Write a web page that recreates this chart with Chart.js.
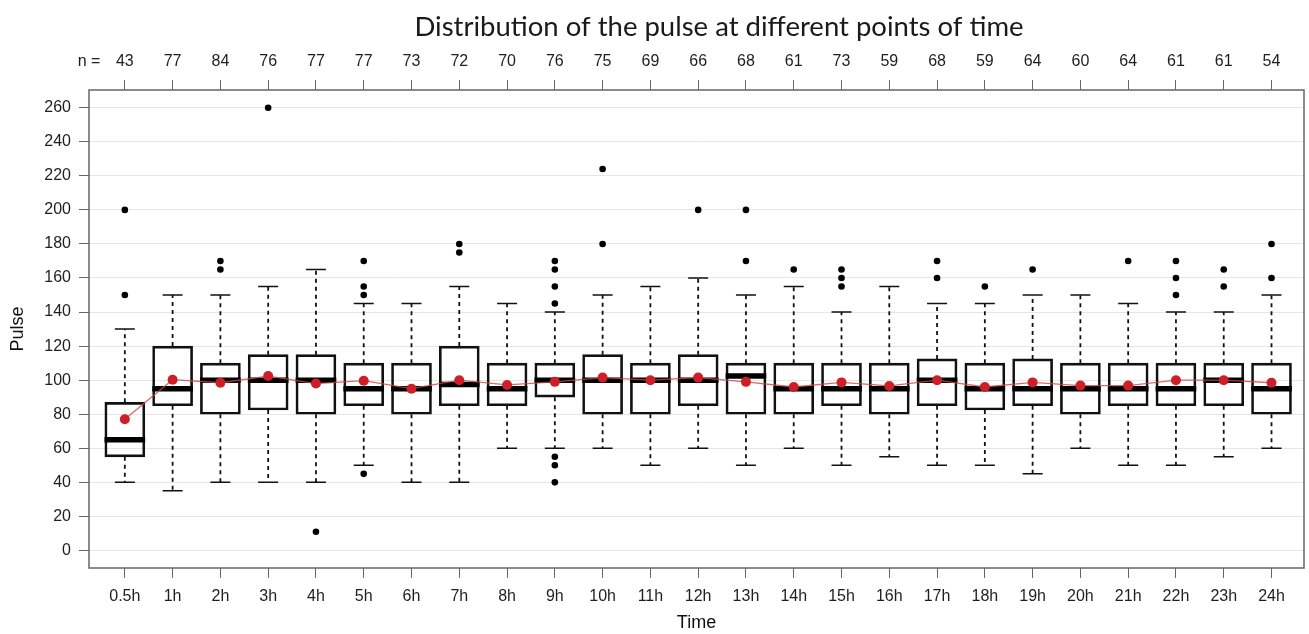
<!DOCTYPE html>
<html>
<head>
<meta charset="utf-8">
<script src="https://cdn.jsdelivr.net/npm/chart.js@4.4.1/dist/chart.umd.min.js"></script>
<style>
  html, body { margin: 0; padding: 0; background: #fff; }
  #wrap { width: 1309px; height: 634px; }
</style>
</head>
<body>
<div id="wrap"><canvas id="pulseChart"></canvas></div>
<script>
//data section
const timeLabels = ['0.5h', '1h', '2h', '3h', '4h', '5h', '6h', '7h', '8h', '9h', '10h', '11h', '12h',
    '13h', '14h', '15h', '16h', '17h', '18h', '19h', '20h', '21h', '22h', '23h', '24h'];
const nCounts = [43, 77, 84, 76, 77, 77, 73, 72, 70, 76, 75, 69, 66, 68, 61, 73, 59, 68, 59, 64, 60, 64, 61, 61, 54];
const q1 = [55, 85, 80, 82.5, 80, 85, 80, 85, 85, 90, 80, 80, 85, 80, 80, 85, 80, 85, 82.5, 85, 80, 85, 85, 85, 80];
const medians = [65, 95, 100, 100, 100, 95, 95, 97.5, 95, 100, 100, 100, 100, 102.5, 95, 95, 95, 100, 95, 95, 95, 95, 95, 100, 95];
const q3 = [87, 120, 110, 115, 115, 110, 110, 120, 110, 110, 115, 110, 115, 110, 110, 110, 110, 112.5, 110, 112.5, 110, 110, 110, 110, 110];
const whiskLow = [40, 35, 40, 40, 40, 50, 40, 40, 60, 60, 60, 50, 60, 50, 60, 50, 55, 50, 50, 45, 60, 50, 50, 55, 60];
const whiskHigh = [130, 150, 150, 155, 165, 145, 145, 155, 145, 140, 150, 155, 160, 150, 155, 140, 155, 145, 145, 150, 150, 145, 140, 140, 150];
const means = [77, 100.3, 98.5, 102.4, 98, 99.7, 95, 100, 97.2, 99, 101.5, 100, 101.5, 99, 96, 98.7, 96.6, 100, 96, 98.7, 96.8, 96.8, 100, 100, 98.5];
const outliers = [[150, 200], [], [165, 170], [260], [11], [45, 150, 155, 170], [], [175, 180], [],
    [40, 50, 55, 145, 155, 165, 170], [180, 224], [], [200], [170, 200], [165], [155, 160, 165], [],
    [160, 170], [155], [165], [], [170], [150, 160, 170], [155, 165], [160, 180]];
const yTicks = [0, 20, 40, 60, 80, 100, 120, 140, 160, 180, 200, 220, 240, 260];

//font + colours
const tickFont = { family: 'Liberation Sans', size: 16 };
const axisTitleFont = { family: 'Liberation Sans', size: 18 };
const tickColor = '#1e1e1e';
const axisLine = '#666';

//whiskers, frame and heading
const boxExtras = {
    id: 'boxExtras',
    beforeDatasetsDraw(chart) {
        const { ctx, scales: { x, y } } = chart;
        ctx.save();
        ctx.strokeStyle = '#111';
        timeLabels.forEach((lab, i) => {
            const px = x.getPixelForValue(i);
            ctx.lineWidth = 1.8;
            ctx.setLineDash([4, 4]);
            ctx.beginPath();
            ctx.moveTo(px, y.getPixelForValue(q3[i]));
            ctx.lineTo(px, y.getPixelForValue(whiskHigh[i]));
            ctx.moveTo(px, y.getPixelForValue(q1[i]));
            ctx.lineTo(px, y.getPixelForValue(whiskLow[i]));
            ctx.stroke();
            ctx.setLineDash([]);
            ctx.lineWidth = 1.5;
            ctx.beginPath();
            [whiskHigh[i], whiskLow[i]].forEach(v => {
                const py = y.getPixelForValue(v);
                ctx.moveTo(px - 10, py);
                ctx.lineTo(px + 10, py);
            });
            ctx.stroke();
        });
        ctx.restore();
    },
    afterDraw(chart) {
        const { ctx, chartArea: a } = chart;
        ctx.save();
        ctx.strokeStyle = axisLine;
        ctx.lineWidth = 1.5;
        ctx.strokeRect(a.left, a.top, a.right - a.left, a.bottom - a.top);
        ctx.fillStyle = '#1a1a1a';
        ctx.font = '27.5px Lato';
        ctx.textAlign = 'center';
        ctx.textBaseline = 'middle';
        ctx.fillText('Distribution of the pulse at different points of time', 719, 27);
        ctx.restore();
    }
};

const pulseChart = () => {
    var ctx = document.getElementById('pulseChart').getContext('2d');
    var chart = new Chart(ctx, {
        type: 'bar',
        data: {
            datasets: [{
                type: 'line',
                label: 'mean',
                data: means.map((v, i) => ({ x: i, y: v })),
                borderColor: 'rgba(205, 70, 70, 0.8)',
                borderWidth: 1.3,
                pointRadius: 5,
                pointBackgroundColor: '#cc1f28',
                pointBorderWidth: 0,
                order: 0
            }, {
                type: 'scatter',
                label: 'outliers',
                data: outliers.flatMap((arr, i) => arr.map(v => ({ x: i, y: v }))),
                pointRadius: 3.3,
                pointBackgroundColor: '#000',
                pointBorderWidth: 0,
                order: 1
            }, {
                label: 'median',
                data: medians.map((v, i) => ({ x: i, y: [v - 1.4, v + 1.4] })),
                backgroundColor: '#000',
                borderWidth: 0,
                barThickness: 40,
                grouped: false,
                order: 2
            }, {
                label: 'box',
                data: q1.map((v, i) => ({ x: i, y: [v, q3[i]] })),
                backgroundColor: 'rgba(255,255,255,0)',
                borderColor: '#111',
                borderWidth: 2,
                borderSkipped: false,
                barThickness: 40,
                grouped: false,
                order: 3
            }]
        },
        options: {
            responsive: true,
            maintainAspectRatio: false,
            animation: false,
            layout: { padding: { left: 0, right: 4, top: 0, bottom: 0 } },
            plugins: { legend: { display: false }, tooltip: { enabled: false } },
            scales: {
                x: {
                    type: 'linear',
                    position: 'bottom',
                    min: -0.75,
                    max: 24.68,
                    offset: false,
                    afterBuildTicks: s => { s.ticks = timeLabels.map((l, i) => ({ value: i })); },
                    afterFit: s => { s.height = 66; },
                    ticks: {
                        autoSkip: false, maxRotation: 0, padding: 9,
                        font: tickFont, color: tickColor,
                        callback: v => timeLabels[v]
                    },
                    grid: { offset: false, drawOnChartArea: false, tickLength: 10, tickColor: axisLine },
                    border: { display: false },
                    title: { display: true, text: 'Time', font: axisTitleFont, color: '#111', padding: { top: 0, bottom: 0 } }
                },
                x2: {
                    type: 'linear',
                    position: 'top',
                    min: -0.75,
                    max: 24.68,
                    offset: false,
                    afterBuildTicks: s => {
                        s.ticks = [{ value: -0.75 }].concat(nCounts.map((n, i) => ({ value: i })));
                    },
                    afterFit: s => { s.height = 90; },
                    ticks: {
                        autoSkip: false, maxRotation: 0, padding: 9,
                        font: tickFont, color: tickColor,
                        callback: (v, i) => i === 0 ? 'n =' : String(nCounts[i - 1])
                    },
                    grid: {
                        offset: false, drawOnChartArea: false, tickLength: 10,
                        tickColor: c => c.index === 0 ? 'rgba(0,0,0,0)' : axisLine
                    },
                    border: { display: false }
                },
                y: {
                    type: 'linear',
                    min: -10.3,
                    max: 270.4,
                    afterBuildTicks: s => { s.ticks = yTicks.map(v => ({ value: v })); },
                    afterFit: s => { s.width = 89; },
                    ticks: { padding: 8, font: tickFont, color: tickColor },
                    grid: { color: '#e6e6e6', lineWidth: 1, tickLength: 10, tickColor: axisLine },
                    border: { display: false },
                    title: { display: true, text: 'Pulse', font: axisTitleFont, color: '#111', padding: { top: 7, bottom: 0 } }
                }
            }
        },
        plugins: [boxExtras]
    });
};

pulseChart()
</script>
</body>
</html>
